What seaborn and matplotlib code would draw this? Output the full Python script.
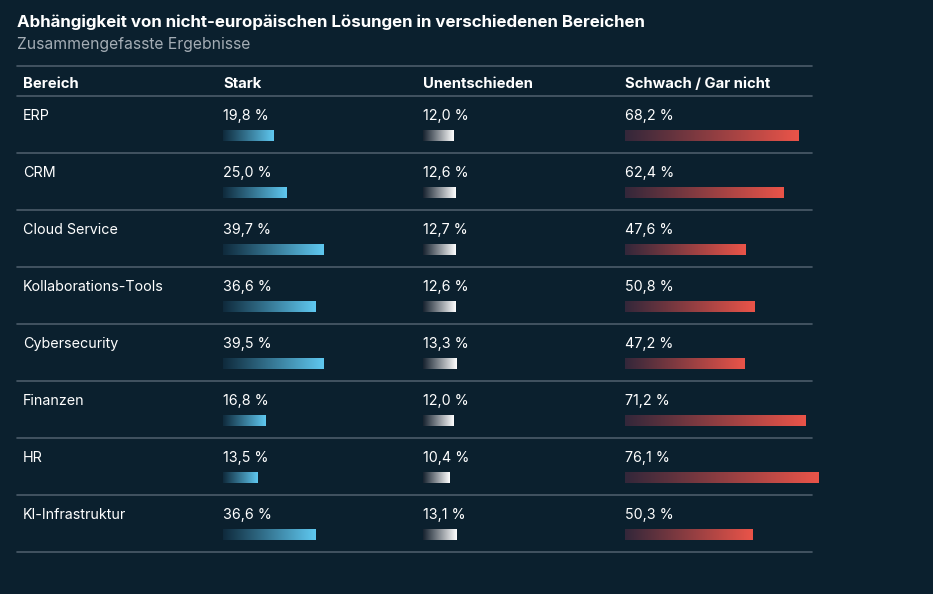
import numpy as np
import pandas as pd
import matplotlib
matplotlib.use('Agg')
import matplotlib.pyplot as plt
import seaborn as sns

# data
bereiche = ['ERP', 'CRM', 'Cloud Service', 'Kollaborations-Tools', 'Cybersecurity',
            'Finanzen', 'HR', 'KI-Infrastruktur']
stark = [19.8, 25.0, 39.7, 36.6, 39.5, 16.8, 13.5, 36.6]
unentschieden = [12.0, 12.6, 12.7, 12.6, 13.3, 12.0, 10.4, 13.1]
schwach = [68.2, 62.4, 47.6, 50.8, 47.2, 71.2, 76.1, 50.3]
headers = ['Bereich', 'Stark', 'Unentschieden', 'Schwach / Gar nicht']
title = 'Abhängigkeit von nicht-europäischen Lösungen in verschiedenen Bereichen'
subtitle = 'Zusammengefasste Ergebnisse'

BG = '#0b202e'
LINE = '#4b5c69'
W, H = 933, 594

sns.set_theme(style='white')
plt.rcParams['font.family'] = ['Inter', 'DejaVu Sans']


def fx(px):
    return px / W


def fy(py):
    return 1 - py / H


def gradient_bars(ax, patches, c0, c1):
    cmap = matplotlib.colors.LinearSegmentedColormap.from_list('g', [c0, c1])
    for p in patches:
        x0, y0 = p.get_x(), p.get_y()
        w, h = p.get_width(), p.get_height()
        grad = np.linspace(0, 1, 256).reshape(1, -1)
        im = ax.imshow(grad, cmap=cmap, aspect='auto', extent=(x0, x0 + w, y0 + h, y0),
                       zorder=3, interpolation='bicubic')
        im.set_clip_path(p)
        p.set_facecolor('none')
        p.set_edgecolor('none')


fig = plt.figure(figsize=(W / 100, H / 100), dpi=100, facecolor=BG)

fig.text(fx(17), fy(22), title, va='center', ha='left', color='white',
         fontsize=12.2, fontweight='bold')
fig.text(fx(17), fy(44), subtitle, va='center', ha='left', color='#a4adb5', fontsize=11.3)

# table lines
top, header_line, pitch = 66, 96, 57
n = len(bereiche)
lines_y = [top, header_line] + [header_line + pitch * (i + 1) for i in range(n)]
for ly in lines_y:
    fig.add_artist(matplotlib.lines.Line2D([fx(17), fx(812)], [fy(ly), fy(ly)],
                                           color=LINE, lw=1.2))

col_x = [23, 223, 423, 625]
for cx, hd in zip(col_x, headers):
    fig.text(fx(cx), fy(84), hd, va='center', ha='left', color='white',
             fontsize=10.7, fontweight='bold')

# bar columns
scale = 2.54  # px per percent
shift = 0.193
df = pd.DataFrame({'Bereich': bereiche, 'Stark': stark,
                   'Unentschieden': unentschieden, 'Schwach': schwach})
cols = [('Stark', '#0f2a3c', '#5fc8f0'),
        ('Unentschieden', '#16222f', '#ffffff'),
        ('Schwach', '#33273a', '#ea5449')]

for (col, c0, c1), cx in zip(cols, col_x[1:]):
    ax = fig.add_axes([fx(cx), fy(header_line + pitch * n), fx(100 * scale),
                       (pitch * n) / H])
    ax.set_facecolor('none')
    sns.barplot(data=df, x=col, y='Bereich', orient='h', width=0.2, ax=ax, color=c1)
    ax.set_xlim(0, 100)
    ax.set_ylim(n - 0.5 - shift, -0.5 - shift)
    gradient_bars(ax, ax.patches, c0, c1)
    for i, v in enumerate(df[col]):
        ax.text(0, i - 0.34, f'{v:.1f} %'.replace('.', ','), color='white',
                fontsize=10.3, va='center', ha='left')
        if col == 'Stark':
            ax.text(-200 / scale, i - 0.34, bereiche[i], color='white',
                    fontsize=10.3, va='center', ha='left', clip_on=False)
    ax.axis('off')

fig.savefig('out.png', dpi=100, facecolor=BG)
